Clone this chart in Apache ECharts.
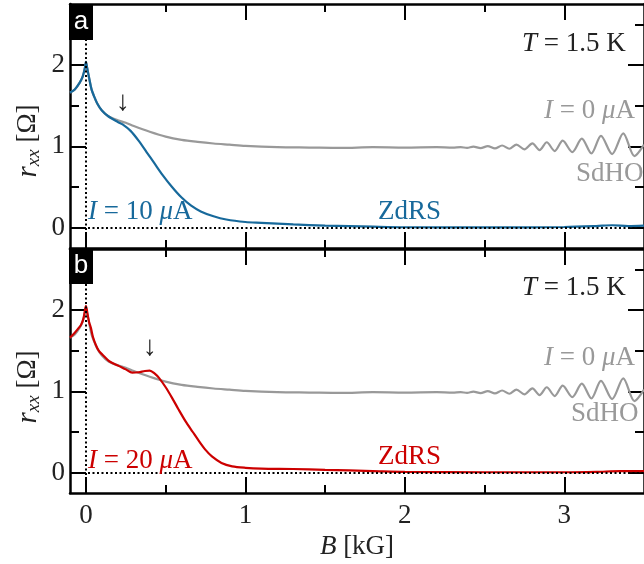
<!DOCTYPE html>
<html>
<head>
<meta charset="utf-8">
<script src="https://cdn.jsdelivr.net/npm/echarts@6/dist/echarts.min.js"></script>
<style>html,body{margin:0;padding:0;background:#fff}#main{width:644px;height:564px}</style>
</head>
<body>
<div id="main"></div>
<script>
// I = 0 uA trace (same in both panels)
const bZero = [-0.1, -0.07, -0.04, -0.02, -0.005, 0, 0.008, 0.02, 0.035, 0.05, 0.07, 0.1, 0.14, 0.2, 0.25, 0.3, 0.4, 0.5, 0.6, 0.7, 0.8, 0.9, 1.0, 1.2, 1.4, 1.6, 1.8, 2.0, 2.2, 2.3,
  2.35, 2.39, 2.43, 2.475, 2.52, 2.565, 2.61, 2.655, 2.70, 2.75, 2.80, 2.845, 2.89, 2.94, 2.99, 3.05, 3.11, 3.17, 3.23, 3.30, 3.37, 3.44, 3.5];
const rZero = [1.66, 1.70, 1.78, 1.86, 1.98, 2.04, 1.96, 1.84, 1.70, 1.62, 1.53, 1.44, 1.37, 1.32, 1.29, 1.25, 1.18, 1.12, 1.08, 1.055, 1.035, 1.02, 1.005, 0.99, 0.985, 0.98, 0.99, 0.985, 0.99, 0.985,
  0.99, 0.982, 0.996, 0.978, 1.002, 0.975, 1.010, 0.970, 1.022, 0.963, 1.036, 0.954, 1.05, 0.942, 1.069, 0.929, 1.095, 0.912, 1.128, 0.905, 1.16, 0.88, 1.02];

// I = 10 uA
const b10 = [-0.1, -0.07, -0.04, -0.02, -0.005, 0, 0.008, 0.02, 0.035, 0.05, 0.07, 0.1, 0.14, 0.2, 0.23, 0.28, 0.33, 0.38, 0.43, 0.48, 0.54, 0.6, 0.66, 0.72, 0.8, 0.88, 1.0, 1.1, 1.3, 1.5, 1.8, 2.0, 2.5, 3.0, 3.2, 3.3, 3.4, 3.5];
const r10 = [1.66, 1.70, 1.78, 1.86, 1.98, 2.04, 1.96, 1.84, 1.70, 1.62, 1.53, 1.44, 1.37, 1.30, 1.27, 1.19, 1.07, 0.93, 0.79, 0.65, 0.50, 0.37, 0.27, 0.20, 0.14, 0.10, 0.07, 0.06, 0.04, 0.025, 0.012, 0.005, 0.003, 0.008, 0.02, 0.03, 0.02, 0.025];

// I = 20 uA
const b20 = [-0.1, -0.07, -0.045, -0.03, -0.015, 0, 0.01, 0.02, 0.031, 0.045, 0.062, 0.08, 0.104, 0.146, 0.208, 0.25, 0.29, 0.33, 0.37, 0.40, 0.43, 0.458, 0.5, 0.54, 0.58, 0.625, 0.67, 0.71, 0.75, 0.79, 0.85, 0.917, 1.0, 1.1, 1.3, 1.5, 1.8, 2.0, 2.5, 3.0, 3.2, 3.35, 3.5];
const r20 = [1.66, 1.72, 1.78, 1.82, 1.90, 2.05, 1.95, 1.85, 1.78, 1.66, 1.57, 1.50, 1.45, 1.37, 1.31, 1.27, 1.23, 1.235, 1.25, 1.255, 1.22, 1.165, 1.05, 0.92, 0.78, 0.63, 0.50, 0.385, 0.28, 0.20, 0.12, 0.078, 0.06, 0.05, 0.045, 0.035, 0.02, 0.01, 0.005, 0.005, 0.01, 0.02, 0.02];

const xMajor = [0, 1, 2, 3];
const xMinor = [0.5, 1.5, 2.5];
const yMajor = [0, 1, 2];
const yMinor = [0.5, 1.5, 2.5];

const serif = 'Liberation Serif';
const grayC = '#999999', blueC = '#17699b', redC = '#cc0000';

function zip(xs, ys) { return xs.map((x, i) => [x, ys[i]]); }

function axis(dim, grid, pos, vals, len, label) {
  return {
    type: 'value', gridIndex: grid, position: pos,
    min: dim === 'x' ? -0.1 : -0.25, max: dim === 'x' ? 3.5 : 2.75,
    axisLine: {show: len > 10, onZero: false, lineStyle: {color: '#000', width: 2.5}},
    axisTick: {show: true, inside: true, length: len, customValues: vals, lineStyle: {color: '#000', width: 2}},
    axisLabel: {show: !!label, customValues: vals, fontFamily: serif, fontSize: 27, color: '#222', margin: dim === 'x' ? 9 : 5},
    splitLine: {show: false}
  };
}

const xAxes = [], yAxes = [];
for (let g = 0; g < 2; g++) {
  const bx = axis('x', g, 'bottom', xMajor, 16, g === 1);
  if (g === 1) {
    bx.name = '{i|B} [kG]';
    bx.nameLocation = 'middle';
    bx.nameGap = 40;
    bx.nameTextStyle = {fontFamily: serif, fontSize: 27, color: '#222', rich: {i: {fontFamily: serif, fontSize: 27, fontStyle: 'italic', color: '#222'}}};
  }
  xAxes.push(bx, axis('x', g, 'bottom', xMinor, 8), axis('x', g, 'top', xMajor, 16), axis('x', g, 'top', xMinor, 8));
  yAxes.push(axis('y', g, 'left', yMajor, 16, true), axis('y', g, 'left', yMinor, 9), axis('y', g, 'right', yMajor, 16), axis('y', g, 'right', yMinor, 9));
}

function line(name, data, color, g, extra) {
  return Object.assign({
    name: name, type: 'line', xAxisIndex: g * 4, yAxisIndex: g * 4,
    data: data, showSymbol: false, smooth: 0.3,
    lineStyle: {color: color, width: 2.2}, itemStyle: {color: color}
  }, extra || {});
}

const dots = {
  silent: true, symbol: 'none', label: {show: false}, animation: false,
  lineStyle: {type: [2, 2.5], color: '#000', width: 2},
  data: [{xAxis: 0}, {yAxis: 0}]
};

const rich = {i: {fontFamily: serif, fontSize: 27, fontStyle: 'italic'}};
function txt(x, y, s, color, align) {
  return {type: 'text', x: x, y: y, z: 100, style: {text: s, fill: color, font: '27px "Liberation Serif"', textAlign: align || 'left', textVerticalAlign: 'middle', rich: rich}};
}
function arrow(x, y) {
  return {type: 'text', x: x, y: y, z: 100, style: {text: '\u2193', fill: '#222', font: '28px "Liberation Serif"', textAlign: 'center', textVerticalAlign: 'middle'}};
}
function panelTag(y, s) {
  return [
    {type: 'rect', shape: {x: 69, y: y, width: 24, height: 36}, style: {fill: '#000'}, z: 100},
    {type: 'text', x: 81, y: y + 18, z: 101, style: {text: s, fill: '#fff', font: '26px "Liberation Sans"', textAlign: 'center', textVerticalAlign: 'middle'}}
  ];
}
function yName(y) {
  return {type: 'text', x: 28, y: y, rotation: Math.PI / 2, z: 100,
    style: {text: '{r|r}{s|xx} [\u03a9]', fill: '#222', font: '27px "Liberation Serif"', textAlign: 'center', textVerticalAlign: 'middle',
      rich: {r: {fontFamily: serif, fontSize: 29, fontStyle: 'italic', lineHeight: 30}, s: {fontFamily: serif, fontSize: 19, fontStyle: 'italic', lineHeight: 19, verticalAlign: 'bottom'}}}};
}

const chart = echarts.init(document.getElementById('main'), null, {renderer: 'canvas'});
chart.setOption({
  animation: false,
  backgroundColor: '#fff',
  grid: [
    {left: 70, top: 4, width: 576, height: 244},
    {left: 70, top: 249, width: 576, height: 244}
  ],
  xAxis: xAxes,
  yAxis: yAxes,
  series: [
    line('I=0 a', zip(bZero, rZero), grayC, 0, {markLine: dots}),
    line('I=10', zip(b10, r10), blueC, 0),
    line('I=0 b', zip(bZero, rZero), grayC, 1, {markLine: dots}),
    line('I=20', zip(b20, r20), redC, 1)
  ],
  graphic: [
    ...panelTag(4, 'a'), ...panelTag(248, 'b'),
    yName(141), yName(387),
    txt(522, 44, '{i|T} = 1.5 K', '#222'),
    txt(544, 111, '{i|I} = 0 {i|\u03bc}A', grayC),
    txt(576, 174, 'SdHO', grayC),
    txt(88, 212, '{i|I} = 10 {i|\u03bc}A', blueC),
    txt(378, 212, 'ZdRS', blueC),
    arrow(123, 103),
    txt(522, 288, '{i|T} = 1.5 K', '#222'),
    txt(544, 358, '{i|I} = 0 {i|\u03bc}A', grayC),
    txt(571, 414, 'SdHO', grayC),
    txt(88, 461, '{i|I} = 20 {i|\u03bc}A', redC),
    txt(378, 457, 'ZdRS', redC),
    arrow(150, 348)
  ]
});
</script>
</body>
</html>
